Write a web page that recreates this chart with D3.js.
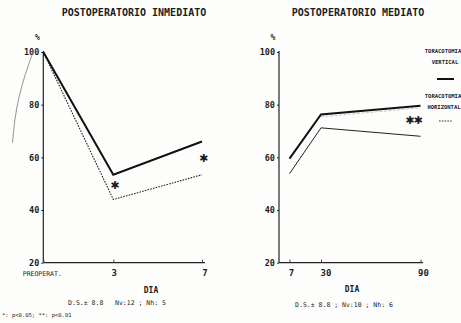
<!DOCTYPE html>
<html>
<head>
<meta charset="utf-8">
<script src="https://cdn.jsdelivr.net/npm/d3@7"></script>
<style>
  body { margin: 0; background: #fdfdfc; }
  svg { display: block; }
  text { font-family: "DejaVu Sans Mono", monospace; fill: #1c1c1c; }
</style>
</head>
<body>
<div id="chart"></div>
<script>
// valores (% respecto al preoperatorio)
const yTicks = [20, 40, 60, 80, 100];

const diasInmediato = [0, 3, 7];
const tickLabelsInmediato = ["PREOPERAT.", "3", "7"];
const verticalInmediato = [100, 53.4, 66];
const horizontalInmediato = [100, 44, 53.4];
const signifInmediato = [[3, 49.5, "✱"], [7, 59.8, "✱"]];

const diasMediato = [7, 30, 90];
const tickLabelsMediato = ["7", "30", "90"];
const verticalMediato = [59.5, 76.3, 79.6];
const horizontalMediato = [53.8, 71.2, 68];
const sombraMediato = [null, 75.4, 78.8];
const signifMediato = [[90, 74, "✱✱"]];

const W = 461, H = 323;
var svg = d3.select("#chart").append("svg")
    .attr("width", W)
    .attr("height", H);

var y = d3.scaleLinear().domain([20, 100]).range([262.7, 52]);

function panel(opts) {
    var x = d3.scaleLinear().domain(opts.dias).range(opts.xRange);
    var g = svg.append("g");

    // titulo
    g.append("text")
        .attr("x", opts.titleX).attr("y", 16)
        .attr("text-anchor", "middle")
        .style("font-size", "10px")
        .style("font-weight", "bold")
        .text(opts.title);

    // eje y
    var axY = g.append("g")
        .attr("transform", "translate(" + opts.axisX + ",0)")
        .call(d3.axisLeft(y).tickValues(yTicks).tickSize(2).tickPadding(2));
    axY.select(".domain").attr("d", "M0," + y(20) + "V" + (y(100) - 1))
        .attr("stroke", "#222").attr("stroke-width", 1.2);
    axY.selectAll("line").attr("stroke", "#222");
    axY.selectAll("text")
        .style("font-size", "8.5px")
        .style("font-weight", "bold")
        .attr("fill", "#1c1c1c");

    g.append("text")
        .attr("x", opts.axisX - 6).attr("y", 40)
        .attr("text-anchor", "middle")
        .style("font-size", "8px")
        .style("font-weight", "bold")
        .text("%");

    // eje x
    var axX = g.append("g")
        .attr("transform", "translate(0," + y(20) + ")")
        .call(d3.axisTop(x).tickValues(opts.dias).tickSize(3).tickFormat(""));
    axX.select(".domain").attr("d", "M" + opts.axisX + ",0H" + opts.axisEnd)
        .attr("stroke", "#222").attr("stroke-width", 1.2);
    axX.selectAll("line").attr("stroke", "#444");

    g.selectAll("text.xlab")
        .data(opts.dias)
        .enter()
        .append("text")
        .attr("class", "xlab")
        .attr("x", function (d, i) { return x(d) + opts.labelShift[i]; })
        .attr("y", y(20) + 13)
        .attr("text-anchor", "middle")
        .style("font-size", function (d, i) { return opts.labels[i].length > 3 ? "6.5px" : "9px"; })
        .style("font-weight", function (d, i) { return opts.labels[i].length > 3 ? "normal" : "bold"; })
        .text(function (d, i) { return opts.labels[i]; });

    g.append("text")
        .attr("x", opts.diaX).attr("y", opts.diaY)
        .attr("text-anchor", "middle")
        .style("font-size", "8px")
        .style("font-weight", "bold")
        .text("DIA");

    g.append("text")
        .attr("x", opts.dsX).attr("y", opts.dsY)
        .attr("text-anchor", "middle")
        .style("font-size", "6.5px")
        .attr("xml:space", "preserve")
        .text(opts.ds);

    var line = d3.line()
        .defined(function (d) { return d != null; })
        .x(function (d, i) { return x(opts.dias[i]); })
        .y(function (d) { return y(d); });

    if (opts.sombra) {
        g.append("path")
            .attr("d", line(opts.sombra))
            .attr("fill", "none")
            .attr("stroke", "#c8c8c8")
            .attr("stroke-width", 1)
            .attr("stroke-dasharray", "3,1.5");
    }

    g.append("path")
        .attr("d", line(opts.horizontal))
        .attr("fill", "none")
        .attr("stroke", "#222")
        .attr("stroke-width", opts.horizDash ? 1.1 : 1)
        .attr("stroke-dasharray", opts.horizDash ? "1.6,1.2" : null);

    g.append("path")
        .attr("d", line(opts.vertical))
        .attr("fill", "none")
        .attr("stroke", "#111")
        .attr("stroke-width", 2);

    // significacion
    g.selectAll("text.sig")
        .data(opts.signif)
        .enter()
        .append("text")
        .attr("class", "sig")
        .attr("x", function (d) { return x(d[0]) + opts.sigShift; })
        .attr("y", function (d) { return y(d[1]); })
        .attr("dy", "0.35em")
        .attr("text-anchor", "middle")
        .style("font-family", "DejaVu Sans")
        .style("font-size", "11px")
        .style("letter-spacing", "-1px")
        .text(function (d) { return d[2]; });

    return x;
}

var xIn = panel({
    title: "POSTOPERATORIO INMEDIATO", titleX: 134,
    dias: diasInmediato, labels: tickLabelsInmediato, labelShift: [-1, 1, 3],
    xRange: [43.3, 113.3, 202], axisX: 43.3, axisEnd: 205,
    vertical: verticalInmediato, horizontal: horizontalInmediato, horizDash: true,
    signif: signifInmediato, sigShift: 1,
    diaX: 151, diaY: 293, dsX: 117, dsY: 305,
    ds: "D.S.± 8.8   Nv:12 ; Nh: 5"
});

var xMed = panel({
    title: "POSTOPERATORIO MEDIATO", titleX: 358,
    dias: diasMediato, labels: tickLabelsMediato, labelShift: [2, 5, 3],
    xRange: [289.5, 321, 420.5], axisX: 279, axisEnd: 423,
    vertical: verticalMediato, horizontal: horizontalMediato, horizDash: false,
    sombra: sombraMediato,
    signif: signifMediato, sigShift: -7,
    diaX: 352, diaY: 292, dsX: 344, dsY: 307,
    ds: "D.S.± 8.8 ; Nv:10 ; Nh: 6"
});

// trazo a mano a la izquierda del primer grafico
const trazo = [[-0.44, 100], [-0.8, 91], [-1.05, 83], [-1.22, 75], [-1.32, 65.5]];
svg.append("path")
    .attr("d", d3.line().curve(d3.curveBasis)
        .x(function (d) { return xIn(d[0]); })
        .y(function (d) { return y(d[1]); })(trazo))
    .attr("fill", "none")
    .attr("stroke", "#777")
    .attr("stroke-width", 0.8);

// leyenda
var leg = svg.append("g").style("font-size", "5.5px").style("font-weight", "bold");
leg.append("text").attr("x", 443).attr("y", 53).attr("text-anchor", "middle").text("TORACOTOMIA");
leg.append("text").attr("x", 445).attr("y", 64).attr("text-anchor", "middle").text("VERTICAL");
leg.append("line").attr("x1", 437).attr("x2", 454).attr("y1", 79).attr("y2", 79)
    .attr("stroke", "#111").attr("stroke-width", 2);
leg.append("text").attr("x", 443).attr("y", 98).attr("text-anchor", "middle").text("TORACOTOMIA");
leg.append("text").attr("x", 444).attr("y", 109).attr("text-anchor", "middle").text("HORIZONTAL");
leg.append("line").attr("x1", 439).attr("x2", 453).attr("y1", 121).attr("y2", 121)
    .attr("stroke", "#333").attr("stroke-width", 1).attr("stroke-dasharray", "1.6,1.2");

// nota
svg.append("text")
    .attr("x", 2).attr("y", 317)
    .style("font-size", "5.5px")
    .text("*: p<0.05; **: p<0.01");
</script>
</body>
</html>
